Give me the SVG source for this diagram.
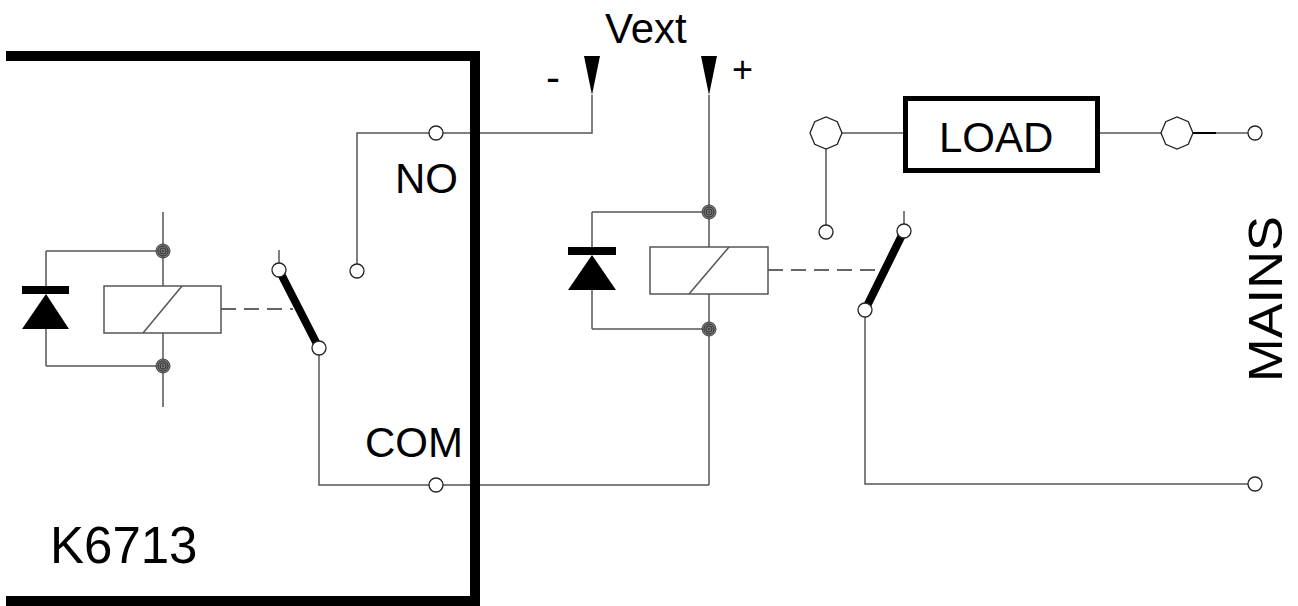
<svg xmlns="http://www.w3.org/2000/svg" width="1298" height="606" viewBox="0 0 1298 606">
<style>
.w{fill:none;stroke:#555;stroke-width:1.5}
.t{font-family:"Liberation Sans",Arial,sans-serif;fill:#000}
.c{fill:#fff;stroke:#222;stroke-width:1.3}
.box{fill:#fff;stroke:#555;stroke-width:1.5}
.dash{fill:none;stroke:#333;stroke-width:1.5;stroke-dasharray:15 8}
.bar{stroke:#000;stroke-width:8;stroke-linecap:round}
</style>
<defs>
<g id="dot">
<circle r="7" fill="#777" stroke="#444" stroke-width="1"/>
<circle r="5" fill="none" stroke="#333" stroke-width="1"/>
<circle r="3" fill="none" stroke="#333" stroke-width="1"/>
<circle r="1" fill="#333"/>
</g>
<polygon id="oct" points="16,0 11.3,11.3 0,16 -11.3,11.3 -16,0 -11.3,-11.3 0,-16 11.3,-11.3" fill="#fff" stroke="#222" stroke-width="1.3"/>
</defs>

<g id="connectors">
<!-- left relay -->
<path class="w" d="M163,212 V286 M163,333 V407 M46,251 H163 M46,366 H163 M46,251 V286 M46,329 V366"/>
<path class="dash" d="M221,309 H293"/>
<path class="w" d="M279,250 V263 M319,355 V485 H709"/>
<!-- NO -->
<path class="w" d="M357,264 V133 H592 V95"/>
<!-- Vext + -->
<path class="w" d="M709,95 V247 M709,294 V485 M592,212 H709 M592,329 H709 M592,212 V247 M592,290 V329"/>
<path class="dash" d="M768,270 H880"/>
<!-- right switch -->
<path class="w" d="M904,211 V224 M865,317 V484 H1248"/>
<path class="w" d="M826,225 V149 M842,133 H903 M1100,133 H1161 M1193,133 H1248"/>
<path d="M1193,133 H1216" stroke="#000" stroke-width="2"/>
</g>

<g id="k6713">
<path d="M6,56 H475 V601 H6" fill="none" stroke="#000" stroke-width="10"/>
<text class="t" x="50" y="563" font-size="51">K6713</text>
</g>

<g id="relay-left">
<rect class="box" x="104" y="286" width="117" height="47"/>
<path class="w" d="M143,333 L182,286"/>
<use href="#dot" x="163" y="251"/>
<use href="#dot" x="163" y="366"/>
</g>

<g id="diode-left">
<rect x="22" y="286" width="47" height="8" fill="#000"/>
<polygon points="46,294 22,329 69,329" fill="#000"/>
</g>

<g id="switch-left">
<line class="bar" x1="279" y1="270" x2="319" y2="348"/>
<circle class="c" cx="279" cy="270" r="7"/>
<circle class="c" cx="319" cy="348" r="7"/>
</g>

<g id="no-terminal">
<circle class="c" cx="436" cy="133" r="7"/>
<circle class="c" cx="357" cy="271" r="7"/>
<text class="t" x="395" y="193" font-size="42">NO</text>
</g>

<g id="com-terminal">
<circle class="c" cx="436" cy="485" r="7"/>
<text class="t" x="365" y="457" font-size="42">COM</text>
</g>

<g id="vext">
<text class="t" x="605" y="43" font-size="42">Vext</text>
<polygon points="584,56 600,56 592,95" fill="#000"/>
<polygon points="701,56 717,56 709,95" fill="#000"/>
<text class="t" x="546" y="92" font-size="42">-</text>
<text class="t" x="732" y="82" font-size="36">+</text>
</g>

<g id="relay-right">
<rect class="box" x="650" y="247" width="118" height="47"/>
<path class="w" d="M689,294 L729,247"/>
<use href="#dot" x="709" y="212"/>
<use href="#dot" x="709" y="329"/>
</g>

<g id="diode-right">
<rect x="568" y="247" width="48" height="8" fill="#000"/>
<polygon points="592,255 568,290 616,290" fill="#000"/>
</g>

<g id="switch-right">
<line class="bar" x1="904" y1="231" x2="865" y2="310" stroke-width="7"/>
<circle class="c" cx="904" cy="231" r="7"/>
<circle class="c" cx="865" cy="310" r="7"/>
<circle class="c" cx="826" cy="232" r="7"/>
</g>

<g id="load">
<rect x="905.5" y="98.5" width="192" height="72" fill="#fff" stroke="#000" stroke-width="5"/>
<text class="t" x="939" y="152" font-size="42">LOAD</text>
<use href="#oct" x="826" y="133"/>
<use href="#oct" x="1177" y="133"/>
<circle class="c" cx="1255" cy="133" r="7"/>
</g>

<g id="mains">
<circle class="c" cx="1255" cy="484" r="7"/>
<text class="t" font-size="48" transform="translate(1282,382) rotate(-90)" textLength="166" lengthAdjust="spacingAndGlyphs">MAINS</text>
</g>
</svg>
